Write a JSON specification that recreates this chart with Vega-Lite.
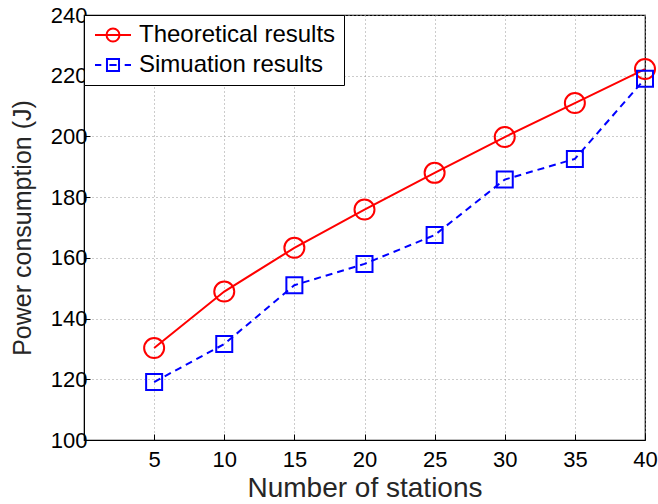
{
  "$schema": "https://vega.github.io/schema/vega-lite/v6.json",
  "width": 561,
  "height": 425,
  "autosize": "none",
  "padding": {"left": 84, "top": 15, "right": 13, "bottom": 64},
  "background": "white",
  "config": {
    "font": "Liberation Sans",
    "view": {"stroke": "black", "strokeWidth": 1.2},
    "axis": {
      "labelFont": "Liberation Sans",
      "labelFontSize": 22,
      "labelColor": "black",
      "titleFont": "Liberation Sans",
      "titleFontWeight": "normal",
      "titleColor": "#262626",
      "domainColor": "black",
      "tickColor": "black",
      "grid": true,
      "gridColor": "#999999",
      "gridDash": [1, 3],
      "gridWidth": 1
    },
    "legend": {
      "labelFont": "Liberation Sans",
      "labelFontSize": 24,
      "labelColor": "black"
    }
  },
  "data": {
    "values": [
      {"n": 5, "series": "Theoretical results", "power": 130.3},
      {"n": 10, "series": "Theoretical results", "power": 148.9},
      {"n": 15, "series": "Theoretical results", "power": 163.3},
      {"n": 20, "series": "Theoretical results", "power": 175.9},
      {"n": 25, "series": "Theoretical results", "power": 188.0},
      {"n": 30, "series": "Theoretical results", "power": 199.8},
      {"n": 35, "series": "Theoretical results", "power": 211.0},
      {"n": 40, "series": "Theoretical results", "power": 222.2},
      {"n": 5, "series": "Simuation results", "power": 119.1},
      {"n": 10, "series": "Simuation results", "power": 131.6},
      {"n": 15, "series": "Simuation results", "power": 151.0},
      {"n": 20, "series": "Simuation results", "power": 158.0},
      {"n": 25, "series": "Simuation results", "power": 167.5},
      {"n": 30, "series": "Simuation results", "power": 185.8},
      {"n": 35, "series": "Simuation results", "power": 192.6},
      {"n": 40, "series": "Simuation results", "power": 219.0}
    ]
  },
  "encoding": {
    "x": {
      "field": "n",
      "type": "quantitative",
      "scale": {"domain": [0, 40], "nice": false},
      "axis": {
        "values": [5, 10, 15, 20, 25, 30, 35, 40],
        "title": "Number of stations",
        "titleFontSize": 28,
        "titlePadding": 4,
        "labelPadding": 15,
        "tickSize": -6,
        "labelFlush": false
      }
    },
    "y": {
      "field": "power",
      "type": "quantitative",
      "scale": {"domain": [100, 240], "nice": false, "zero": false},
      "axis": {
        "values": [100, 120, 140, 160, 180, 200, 220, 240],
        "title": "Power consumption (J)",
        "titleFontSize": 25,
        "titlePadding": 15,
        "labelPadding": 3,
        "tickSize": -6
      }
    }
  },
  "layer": [
    {
      "transform": [{"filter": "datum.series === 'Theoretical results'"}],
      "mark": {"type": "line", "strokeWidth": 2, "stroke": "#ff0000"}
    },
    {
      "transform": [{"filter": "datum.series === 'Simuation results'"}],
      "mark": {"type": "line", "strokeWidth": 2, "stroke": "#0000ff", "strokeDash": [7, 5]}
    },
    {
      "transform": [{"filter": "datum.series === 'Theoretical results'"}],
      "mark": {"type": "point", "shape": "circle", "size": 400, "filled": false, "strokeWidth": 2, "stroke": "#ff0000", "opacity": 1}
    },
    {
      "transform": [{"filter": "datum.series === 'Simuation results'"}],
      "mark": {"type": "point", "shape": "square", "size": 256, "filled": false, "strokeWidth": 2, "stroke": "#0000ff", "opacity": 1}
    },
    {
      "mark": {"type": "point", "filled": false, "strokeWidth": 2, "opacity": 0},
      "encoding": {
        "shape": {
          "field": "series",
          "type": "nominal",
          "scale": {
            "domain": ["Theoretical results", "Simuation results"],
            "range": [
              "M-1,0L3,0M0.28,0A0.72,0.72 0 1,1 1.72,0A0.72,0.72 0 1,1 0.28,0",
              "M-1,0L-0.3,0M0.6,0L1.4,0M2.3,0L3,0M0.33,-0.67L1.67,-0.67L1.67,0.67L0.33,0.67Z"
            ]
          },
          "legend": {
            "title": null,
            "orient": "top-left",
            "offset": 0,
            "padding": 8,
            "strokeColor": "black",
            "fillColor": "white",
            "symbolSize": 324,
            "symbolStrokeWidth": 2,
            "symbolOpacity": 1,
            "symbolFillColor": "transparent",
            "labelOffset": 23,
            "rowPadding": 6,
            "labelLimit": 400
          }
        },
        "color": {
          "field": "series",
          "type": "nominal",
          "scale": {"domain": ["Theoretical results", "Simuation results"], "range": ["#ff0000", "#0000ff"]},
          "legend": {
            "title": null,
            "orient": "top-left",
            "offset": 0,
            "padding": 8,
            "strokeColor": "black",
            "fillColor": "white",
            "symbolSize": 324,
            "symbolStrokeWidth": 2,
            "symbolOpacity": 1,
            "symbolFillColor": "transparent",
            "labelOffset": 23,
            "rowPadding": 6,
            "labelLimit": 400
          }
        }
      }
    }
  ]
}
